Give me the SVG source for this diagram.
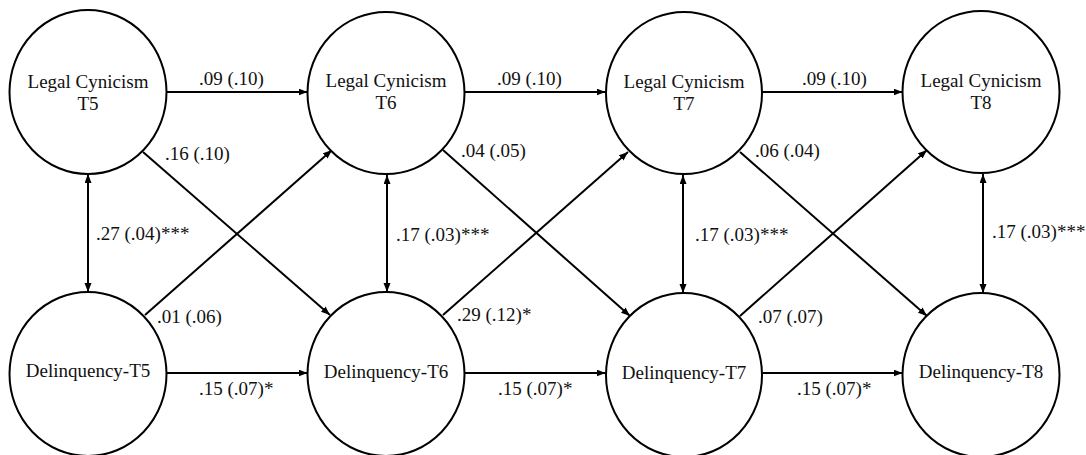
<svg xmlns="http://www.w3.org/2000/svg" width="1086" height="455" viewBox="0 0 1086 455">
  <style>
    .node { fill: #ffffff; stroke: #000000; stroke-width: 2; }
    .lbl { font-family: 'Liberation Serif', 'Times New Roman', Times, 'DejaVu Serif', serif; font-size: 19px; fill: #111111; }
    .name { text-anchor: middle; }
    .edge { stroke: #000000; stroke-width: 2; fill: none; marker-end: url(#head); }
    .both { marker-start: url(#head); }
  </style>
  <defs>
    <marker id="head" markerUnits="userSpaceOnUse" markerWidth="10" markerHeight="8" refX="9" refY="3.5" orient="auto-start-reverse">
      <path d="M0,0 L9,3.5 L0,7 z" fill="#000000"/>
    </marker>
  </defs>
  <rect width="1086" height="455" fill="#ffffff"/>

  <!-- paths and correlations -->
  <g id="connectors">
    <!-- stability: legal cynicism -->
    <line class="edge" x1="166.5" y1="92" x2="307.5" y2="92"/>
    <line class="edge" x1="464.5" y1="92" x2="605.5" y2="92"/>
    <line class="edge" x1="762.5" y1="92" x2="902.5" y2="92"/>
    <!-- stability: delinquency -->
    <line class="edge" x1="166.5" y1="373" x2="307.5" y2="373"/>
    <line class="edge" x1="464.5" y1="373" x2="605.5" y2="373"/>
    <line class="edge" x1="762.5" y1="373" x2="902.5" y2="373"/>
    <!-- within-wave correlations -->
    <line class="edge both" x1="88" y1="174" x2="88" y2="292"/>
    <line class="edge both" x1="387" y1="175" x2="387" y2="292"/>
    <line class="edge both" x1="683" y1="175" x2="683" y2="293"/>
    <line class="edge both" x1="983" y1="174" x2="983" y2="293"/>
    <!-- cross-lagged paths -->
    <line class="edge" x1="143" y1="152" x2="330" y2="315"/>
    <line class="edge" x1="145" y1="315" x2="332" y2="150"/>
    <line class="edge" x1="443" y1="150" x2="630" y2="316"/>
    <line class="edge" x1="443" y1="315" x2="628" y2="152"/>
    <line class="edge" x1="740" y1="152" x2="927" y2="316"/>
    <line class="edge" x1="740" y1="316" x2="927" y2="150"/>
  </g>

  <!-- coefficient labels -->
  <g id="labels">
    <text class="lbl" x="199" y="85">.09 (.10)</text>
    <text class="lbl" x="497" y="85">.09 (.10)</text>
    <text class="lbl" x="802" y="85">.09 (.10)</text>
    <text class="lbl" x="199" y="395">.15 (.07)*</text>
    <text class="lbl" x="498" y="395">.15 (.07)*</text>
    <text class="lbl" x="797" y="395">.15 (.07)*</text>
    <text class="lbl" x="96" y="240">.27 (.04)***</text>
    <text class="lbl" x="396" y="241">.17 (.03)***</text>
    <text class="lbl" x="695" y="241">.17 (.03)***</text>
    <text class="lbl" x="992" y="238">.17 (.03)***</text>
    <text class="lbl" x="165" y="160">.16 (.10)</text>
    <text class="lbl" x="461" y="157">.04 (.05)</text>
    <text class="lbl" x="755" y="157">.06 (.04)</text>
    <text class="lbl" x="157" y="323">.01 (.06)</text>
    <text class="lbl" x="457" y="321">.29 (.12)*</text>
    <text class="lbl" x="758" y="323">.07 (.07)</text>
  </g>

  <!-- latent constructs -->
  <g id="lc-t5">
    <ellipse class="node" cx="88" cy="92" rx="78.5" ry="82"/>
    <text class="lbl name" x="88" y="88">Legal Cynicism</text>
    <text class="lbl name" x="88" y="110">T5</text>
  </g>
  <g id="lc-t6">
    <ellipse class="node" cx="386" cy="93" rx="78.5" ry="81"/>
    <text class="lbl name" x="386" y="87">Legal Cynicism</text>
    <text class="lbl name" x="386" y="109">T6</text>
  </g>
  <g id="lc-t7">
    <ellipse class="node" cx="684" cy="93" rx="78" ry="81"/>
    <text class="lbl name" x="684" y="88">Legal Cynicism</text>
    <text class="lbl name" x="684" y="110">T7</text>
  </g>
  <g id="lc-t8">
    <ellipse class="node" cx="981" cy="92" rx="78.5" ry="81"/>
    <text class="lbl name" x="981" y="87">Legal Cynicism</text>
    <text class="lbl name" x="981" y="109">T8</text>
  </g>
  <g id="del-t5">
    <ellipse class="node" cx="88" cy="374" rx="78.5" ry="82"/>
    <text class="lbl name" x="88" y="377">Delinquency-T5</text>
  </g>
  <g id="del-t6">
    <ellipse class="node" cx="386" cy="374" rx="78.5" ry="82"/>
    <text class="lbl name" x="386" y="378">Delinquency-T6</text>
  </g>
  <g id="del-t7">
    <ellipse class="node" cx="684" cy="375" rx="78" ry="82"/>
    <text class="lbl name" x="684" y="379">Delinquency-T7</text>
  </g>
  <g id="del-t8">
    <ellipse class="node" cx="981" cy="375" rx="78.5" ry="82"/>
    <text class="lbl name" x="981" y="378">Delinquency-T8</text>
  </g>
</svg>
